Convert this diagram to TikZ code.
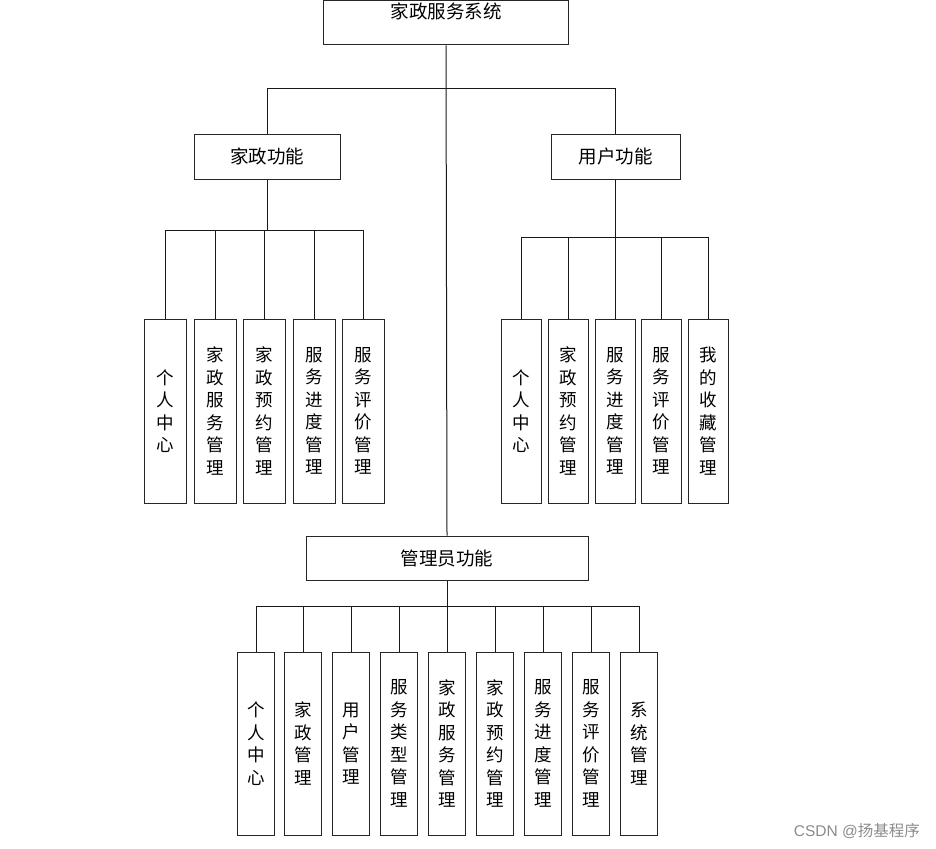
\documentclass[tikz,border=0pt]{standalone}
\usepackage{fontspec}
\setmainfont{Noto Sans CJK SC}
\newfontfamily\latinwm{Liberation Sans}
\begin{document}
\begin{tikzpicture}[x=1pt,y=-1pt,
  box/.style={draw=black!85, line width=1pt, fill=white, inner sep=0pt, font=\fontsize{18.5}{20}\selectfont},
  vbox/.style={box, align=center, font=\fontsize{17.5}{22.5}\selectfont},
  conn/.style={draw=black!90, line width=1pt}]
\useasboundingbox[fill=white] (0,0) rectangle (936,848);
% root
\node[box, minimum width=245pt, minimum height=44pt,
  label={[anchor=center, yshift=-11pt, inner sep=0pt, font=\fontsize{18.5}{20}\selectfont]north:家政服务系统}] (root) at (446,23) {};
\node[box, minimum width=146pt, minimum height=45pt] (jz) at (267,156.5) {家政功能};
\node[box, minimum width=129pt, minimum height=45pt] (yh) at (615.5,156.5) {用户功能};
\node[box, minimum width=282pt, minimum height=44pt] (adm) at (447,558) {管理员功能};
% bus coordinates
\coordinate (b0) at (446,89);
\coordinate (b1) at (0,230);
\coordinate (b2) at (0,237);
\coordinate (b3) at (0,606);
% group 1
\foreach \n/\x/\t in {a1/165/个\\人\\中\\心, a2/215/家\\政\\服\\务\\管\\理, a3/264/家\\政\\预\\约\\管\\理, a4/314/服\\务\\进\\度\\管\\理, a5/363/服\\务\\评\\价\\管\\理}
  \node[vbox, minimum width=42pt, minimum height=184pt] (\n) at (\x,411) {\t};
% group 2
\foreach \n/\x/\t in {u1/521/个\\人\\中\\心, u2/568/家\\政\\预\\约\\管\\理, u3/615/服\\务\\进\\度\\管\\理, u4/661/服\\务\\评\\价\\管\\理, u5/708/我\\的\\收\\藏\\管\\理}
  \node[vbox, minimum width=40pt, minimum height=184pt] (\n) at (\x,411) {\t};
% group 3
\foreach \n/\x/\t in {m1/256/个\\人\\中\\心, m2/303/家\\政\\管\\理, m3/351/用\\户\\管\\理, m4/399/服\\务\\类\\型\\管\\理, m5/447/家\\政\\服\\务\\管\\理, m6/495/家\\政\\预\\约\\管\\理, m7/543/服\\务\\进\\度\\管\\理, m8/591/服\\务\\评\\价\\管\\理, m9/639/系\\统\\管\\理}
  \node[vbox, minimum width=37pt, minimum height=183pt] (\n) at (\x,743.5) {\t};
% connectors
\draw[conn] (root.south) -- (adm.north);
\draw[conn] (jz.north) -- (jz.north |- b0) -- (yh.north |- b0) -- (yh.north);
\draw[conn] (jz.south) -- (jz.south |- b1);
\draw[conn] (a1.north |- b1) -- (a5.north |- b1);
\foreach \n in {a1,a2,a3,a4,a5} \draw[conn] (\n.north) -- (\n.north |- b1);
\draw[conn] (yh.south) -- (yh.south |- b2);
\draw[conn] (u1.north |- b2) -- (u5.north |- b2);
\foreach \n in {u1,u2,u3,u4,u5} \draw[conn] (\n.north) -- (\n.north |- b2);
\draw[conn] (adm.south) -- (adm.south |- b3);
\draw[conn] (m1.north |- b3) -- (m9.north |- b3);
\foreach \n in {m1,m2,m3,m4,m5,m6,m7,m8,m9} \draw[conn] (\n.north) -- (\n.north |- b3);
% watermark
\node[anchor=east, text=black!45, font=\fontsize{15.5}{18}\selectfont, inner sep=0pt] (wm) at (920,831) {{\latinwm CSDN @}扬基程序};
\end{tikzpicture}
\end{document}
